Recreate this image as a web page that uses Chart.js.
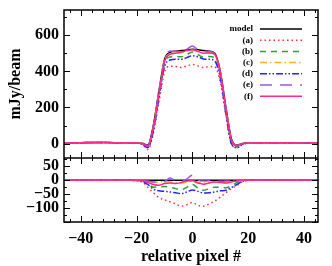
<!DOCTYPE html>
<html>
<head>
<meta charset="utf-8">
<script src="https://cdn.jsdelivr.net/npm/chart.js@4/dist/chart.umd.min.js"></script>
<style>
  html, body { margin: 0; padding: 0; background: #fff; }
  #wrap { position: relative; width: 332px; height: 266px; }
  #top { position: absolute; left: 0; top: 0; }
  #bot { position: absolute; left: 0; top: 158px; }
</style>
</head>
<body>
<div id="wrap">
  <canvas id="top" width="332" height="158"></canvas>
  <canvas id="bot" width="332" height="108"></canvas>
</div>
<script>
// relative pixel positions
const pixels = [-46, -40, -34, -28, -22, -18, -16, -14, -12, -10, -8, -6, -4, -2, 0, 2, 4, 6, 8, 10, 12, 14, 16, 18, 20, 24, 30, 36, 42, 45];

// profiles (mJy/beam)
const model = [3, 5, 6, 5, 5, 2, -8, 100, 290, 465, 505, 512, 515, 518, 522, 520, 515, 512, 500, 400, 202, 25, -8, 0, 3, 5, 5, 4, 3, 3];
const profA = [3, 5, 6, 5, 5, -3, -33, 55, 228, 395, 428, 427, 422, 430, 438, 430, 422, 427, 425, 340, 157, -5, -22, -5, 3, 5, 5, 4, 3, 3];
const profB = [3, 5, 6, 5, 5, -1, -20, 75, 266, 443, 480, 482, 481, 493, 507, 492, 479, 482, 475, 375, 175, 5, -16, -2, 3, 5, 5, 4, 3, 3];
const profC = [3, 5, 6, 5, 5, 0, -13, 92, 284, 460, 499, 504, 505, 512, 519, 513, 505, 504, 494, 394, 194, 20, -11, -1, 3, 5, 5, 4, 3, 3];
const profD = [3, 5, 6, 5, 5, -3, -23, 68, 252, 425, 463, 467, 467, 476, 487, 480, 469, 467, 458, 362, 166, -1, -23, -3, 3, 5, 5, 4, 3, 3];
const profE = [3, 5, 6, 5, 5, 1, -11, 94, 282, 460, 513, 510, 510, 523, 540, 520, 512, 510, 497, 396, 199, 23, -9, 0, 3, 5, 5, 4, 3, 3];
const profF = [3, 5, 6, 5, 5, 0, -16, 85, 272, 453, 495, 500, 507, 515, 520, 510, 501, 502, 494, 392, 192, 19, -11, 0, 3, 5, 5, 4, 3, 3];

// residuals (profile - model)
const resModel = [0, 0, 0, 0, 0, 0, 0, 0, 0, 0, 0, 0, 0, 0, 0, 0, 0, 0, 0, 0, 0, 0, 0, 0, 0, 0, 0, 0, 0, 0];
const resA = [0, 0, 0, 0, 0, -5, -25, -45, -62, -70, -77, -85, -93, -88, -80, -90, -93, -85, -75, -60, -45, -30, -18, -5, 0, 0, 0, 0, 0, 0];
const resB = [0, 0, 0, 0, 0, -3, -12, -25, -24, -22, -25, -30, -34, -25, -15, -28, -36, -30, -25, -25, -27, -20, -8, -2, 0, 0, 0, 0, 0, 0];
const resC = [0, 0, 0, 0, 0, -2, -5, -8, -6, -5, -6, -8, -10, -6, -3, -7, -10, -8, -6, -6, -8, -5, -3, -1, 0, 0, 0, 0, 0, 0];
const resD = [0, 0, 0, 0, 0, -5, -15, -32, -38, -40, -42, -45, -48, -42, -35, -40, -46, -45, -42, -38, -36, -26, -15, -3, 0, 0, 0, 0, 0, 0];
const resE = [0, 0, 0, 0, 0, -1, -3, -6, -8, -5, 8, -2, -5, 5, 18, 0, -3, -2, -3, -4, -3, -2, -1, 0, 0, 0, 0, 0, 0, 0];
const resF = [0, 0, 0, 0, 0, -2, -8, -15, -18, -12, -10, -12, -8, -3, -2, -10, -14, -10, -6, -8, -10, -6, -3, 0, 0, 0, 0, 0, 0, 0];

const labels = ['model', '(a)', '(b)', '(c)', '(d)', '(e)', '(f)'];
const xTicks = [-40, -20, 0, 20, 40];
const topTicks = [0, 200, 400, 600];
const botTicks = [-100, -50, 0, 50];

const styles = [
  { color: '#000000', dash: [] },
  { color: '#ff3333', dash: [1.5, 3] },
  { color: '#33a033', dash: [6, 5] },
  { color: '#ffb020', dash: [7, 3, 1.5, 3] },
  { color: '#2424ff', dash: [7, 2, 1.5, 2, 1.5, 2] },
  { color: '#a455e0', dash: [12, 8] },
  { color: '#ff2a8a', dash: [] },
];

const serif = 'Liberation Serif, DejaVu Serif, serif';

const makeSets = (series) => series.map((s, i) => ({
  label: labels[i],
  data: pixels.map((p, j) => ({ x: p, y: s[j] })),
  borderColor: styles[i].color,
  borderDash: styles[i].dash,
  borderWidth: 1.5,
  pointRadius: 0,
  cubicInterpolationMode: 'monotone',
  fill: false,
  order: series.length - 1 - i,
}));

// no extra room for half tick labels at the ends
const noPad = (s) => {
  s.paddingTop = 0; s.paddingBottom = 0; s.paddingLeft = 0; s.paddingRight = 0;
};

// frame with inward major/minor ticks, IDL style
const frame = {
  id: 'frame',
  afterDraw(chart, args, o) {
    const { ctx, chartArea: a, scales: { x, y } } = chart;
    ctx.save();
    ctx.strokeStyle = '#000';
    ctx.lineWidth = 1;
    ctx.beginPath();
    for (let v = -44; v <= 44; v += 4) {
      const px = Math.round(x.getPixelForValue(v)) + 0.5;
      const len = v % 20 === 0 ? 6 : 3;
      ctx.moveTo(px, a.top); ctx.lineTo(px, a.top + len);
      ctx.moveTo(px, a.bottom); ctx.lineTo(px, a.bottom - len);
    }
    for (let v = o.yFrom; v <= o.yTo; v += o.yMinor) {
      const py = Math.round(y.getPixelForValue(v)) + 0.5;
      const len = v % o.yMajor === 0 ? 6 : 3;
      ctx.moveTo(a.left, py); ctx.lineTo(a.left + len, py);
      ctx.moveTo(a.right, py); ctx.lineTo(a.right - len, py);
    }
    ctx.stroke();
    ctx.lineWidth = 1.5;
    ctx.strokeRect(a.left, a.top, a.width, a.height);
    ctx.restore();
  },
};

// legend: right-aligned label, line sample to its right
const lineLegend = {
  id: 'lineLegend',
  afterDraw(chart) {
    const { ctx } = chart;
    ctx.save();
    ctx.font = 'bold 9px ' + serif;
    ctx.textAlign = 'right';
    ctx.textBaseline = 'middle';
    chart.data.datasets.forEach((ds, i) => {
      const yy = 29 + i * 11.2;
      ctx.fillStyle = '#000';
      ctx.fillText(ds.label, 253, yy);
      ctx.strokeStyle = ds.borderColor;
      ctx.lineWidth = 1.5;
      ctx.setLineDash(ds.borderDash);
      ctx.beginPath();
      ctx.moveTo(260, yy);
      ctx.lineTo(302, yy);
      ctx.stroke();
    });
    ctx.restore();
  },
};

const minus = (v) => String(v).replace('-', '\u2212');

new Chart(document.getElementById('top'), {
  type: 'line',
  data: { datasets: makeSets([model, profA, profB, profC, profD, profE, profF]) },
  options: {
    responsive: false,
    animation: false,
    devicePixelRatio: 1,
    layout: { padding: { top: 10, right: 14, left: 0, bottom: 0 } },
    scales: {
      x: {
        type: 'linear',
        min: -46,
        max: 45,
        display: false,
      },
      y: {
        min: -80,
        max: 740,
        afterBuildTicks: (s) => { s.ticks = topTicks.map((v) => ({ value: v })); },
        afterFit: (s) => { s.width = 64; noPad(s); },
        grid: { display: false, drawTicks: false },
        border: { display: false },
        ticks: {
          autoSkip: false,
          padding: 5,
          color: '#000',
          font: { family: serif, size: 16, weight: 'bold' },
          callback: (v) => minus(v),
        },
        title: {
          display: true,
          text: 'mJy/beam',
          color: '#000',
          padding: { top: 6, bottom: 0 },
          font: { family: serif, size: 16, weight: 'bold' },
        },
      },
    },
    plugins: {
      legend: { display: false },
      tooltip: { enabled: false },
      frame: { yFrom: 0, yTo: 700, yMinor: 100, yMajor: 200 },
    },
  },
  plugins: [frame, lineLegend],
});

new Chart(document.getElementById('bot'), {
  type: 'line',
  data: { datasets: makeSets([resModel, resA, resB, resC, resD, resE, resF]) },
  options: {
    responsive: false,
    animation: false,
    devicePixelRatio: 1,
    layout: { padding: { top: 0, right: 14, left: 0, bottom: 0 } },
    scales: {
      x: {
        type: 'linear',
        min: -46,
        max: 45,
        afterBuildTicks: (s) => { s.ticks = xTicks.map((v) => ({ value: v })); },
        afterFit: (s) => { s.height = 44; noPad(s); },
        grid: { display: false, drawTicks: false },
        border: { display: false },
        ticks: {
          autoSkip: false,
          padding: 7,
          maxRotation: 0,
          color: '#000',
          font: { family: serif, size: 16, weight: 'bold' },
          callback: (v) => minus(v),
        },
        title: {
          display: true,
          text: 'relative pixel #',
          color: '#000',
          padding: { top: 0, bottom: 0 },
          font: { family: serif, size: 16, weight: 'bold' },
        },
      },
      y: {
        min: -150,
        max: 80,
        afterBuildTicks: (s) => { s.ticks = botTicks.map((v) => ({ value: v })); },
        afterFit: (s) => { s.width = 64; noPad(s); },
        grid: { display: false, drawTicks: false },
        border: { display: false },
        ticks: {
          autoSkip: false,
          padding: 5,
          color: '#000',
          font: { family: serif, size: 16, weight: 'bold' },
          callback: (v) => minus(v),
        },
      },
    },
    plugins: {
      legend: { display: false },
      tooltip: { enabled: false },
      frame: { yFrom: -150, yTo: 75, yMinor: 25, yMajor: 50 },
    },
  },
  plugins: [frame],
});
</script>
</body>
</html>
